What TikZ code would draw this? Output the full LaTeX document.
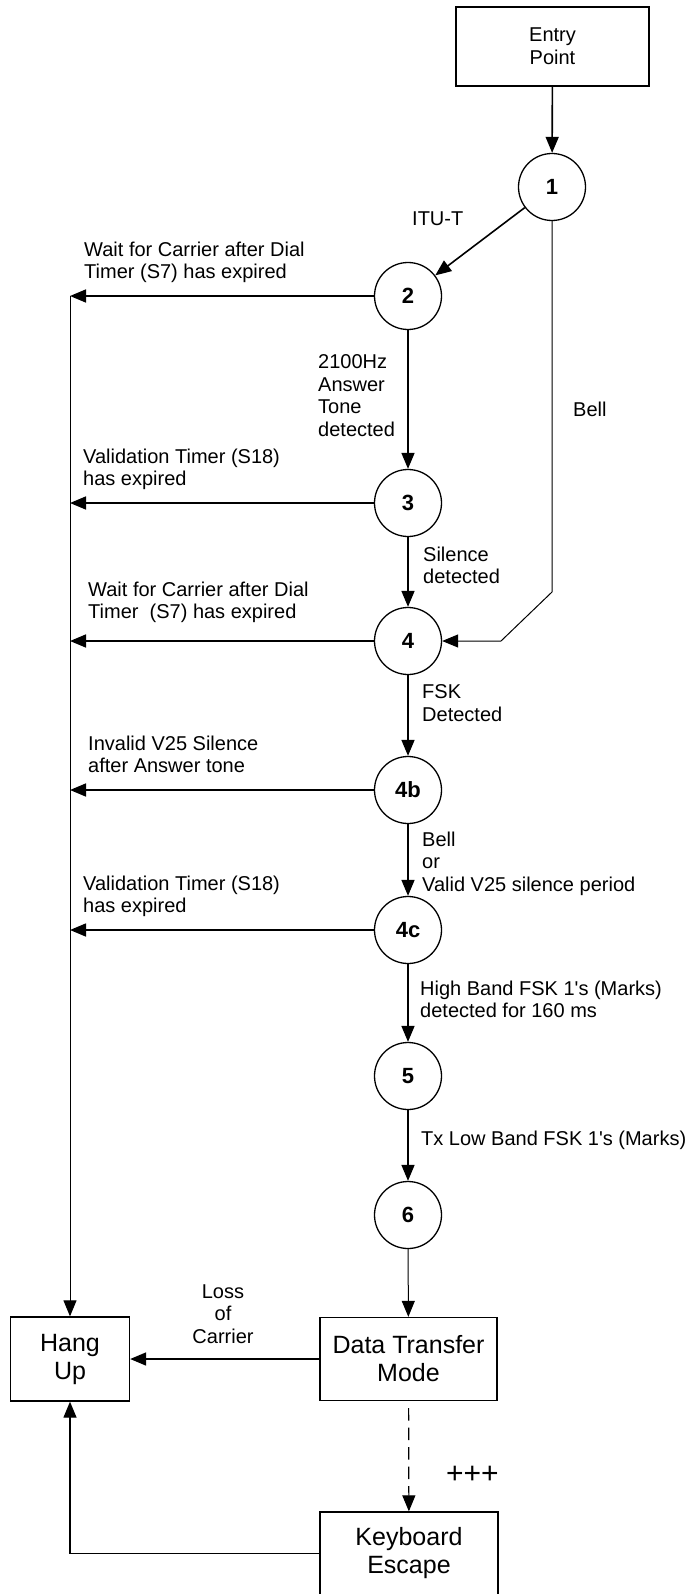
\documentclass[tikz,border=0pt]{standalone}
\usepackage{fontspec}
\setmainfont{Liberation Sans}[Ligatures=TeXOff]
\usetikzlibrary{arrows.meta}
\newcommand{\lblfont}{\fontsize{20}{22.6}\selectfont}
\newcommand{\boxfont}{\fontsize{25}{28}\selectfont}
\tikzset{
  state/.style={draw, circle, line width=1.3pt, minimum size=67pt, inner sep=0pt, font=\fontsize{22}{24}\selectfont\bfseries},
  blk/.style={draw, rectangle, line width=1.3pt, inner sep=0pt, align=center, font=\boxfont},
  lbl/.style={inner sep=0pt, align=left, anchor=north west, font=\lblfont},
  flow/.style={line width=1.6pt, -{Triangle[length=16pt,width=13pt]}},
  thinflow/.style={line width=1pt, -{Triangle[length=16pt,width=13pt]}},
}
\begin{document}
\begin{tikzpicture}[x=1pt,y=-1pt]
\useasboundingbox (0,0) rectangle (691,1594);
\node[blk, minimum width=193pt, minimum height=79pt, font=\lblfont] (entry) at (552.5,46.5) {Entry\\Point};
\node[state] (s1) at (552,187) {1};
\node[state] (s2) at (408,296) {2};
\node[state] (s3) at (408,503) {3};
\node[state] (s4) at (408,641) {4};
\node[state] (s4b) at (408,790) {4b};
\node[state] (s4c) at (408,930) {4c};
\node[state] (s5) at (408,1076) {5};
\node[state] (s6) at (408,1215) {6};
\node[blk, minimum width=119pt, minimum height=84pt] (hangup) at (70,1359) {Hang\\Up};
\node[blk, minimum width=177pt, minimum height=83pt] (dtm) at (408.5,1359) {Data Transfer\\Mode};
\node[blk, minimum width=178pt, minimum height=83pt] (kesc) at (409,1553.5) {Keyboard\\Escape};
\coordinate (rail) at (70,0);
\coordinate (bellA) at (552,592);
\coordinate (bellB) at (501,641);
%main path
\draw[flow] (entry) -- (s1);
\draw[flow] (s1) -- (s2);
\draw[flow] (s2) -- (s3);
\draw[flow] (s3) -- (s4);
\draw[flow] (s4) -- (s4b);
\draw[flow] (s4b) -- (s4c);
\draw[flow] (s4c) -- (s5);
\draw[flow] (s5) -- (s6);
\draw[thinflow] (s6) -- (dtm);
\draw[thinflow] (s1.south) -- (bellA) -- (bellB) -- (s4.east);
%to hang up
\draw[flow] (s2.west) -- (s2.west -| rail);
\draw[flow] (s3.west) -- (s3.west -| rail);
\draw[flow] (s4.west) -- (s4.west -| rail);
\draw[flow] (s4b.west) -- (s4b.west -| rail);
\draw[flow] (s4c.west) -- (s4c.west -| rail);
\draw[thinflow] (s2.west -| rail) -- (hangup.north);
\draw[flow] (dtm.west) -- (hangup.east);
\draw[flow, line width=1.3pt] (kesc.west) -| (hangup.south);
\draw[flow, line width=1.2pt, dash pattern=on 12.5pt off 7pt, dash phase=12.5pt] (dtm) -- (kesc);
%labels
\node[lbl, anchor=base west] (itu) at (412,226) {ITU-T};
\node[lbl, anchor=base west] (bell) at (573,416) {Bell};
\node[lbl] (w2) at (84,241.4) {Wait for Carrier after Dial\\Timer (S7) has expired};
\node[lbl] (v3) at (83,448.4) {Validation Timer (S18)\\has expired};
\node[lbl] (w4) at (88,581.4) {Wait for Carrier after Dial\\Timer\ \ (S7) has expired};
\node[lbl] (i4b) at (88,735.4) {Invalid V25 Silence\\after Answer tone};
\node[lbl] (v4c) at (83,875.4) {Validation Timer (S18)\\has expired};
\node[lbl] (ans) at (318,354.4) {2100Hz\\Answer\\Tone\\detected};
\node[lbl] (sil) at (423,546.4) {Silence\\detected};
\node[lbl] (fsk) at (422,684.4) {FSK\\Detected};
\node[lbl] (bor) at (422,831.4) {Bell\\or\\Valid V25 silence period};
\node[lbl] (hb) at (420,980.4) {High Band FSK 1's (Marks)\\detected for 160 ms};
\node[lbl, anchor=base west] (tx) at (421,1145) {Tx Low Band FSK 1's (Marks)};
\node[lbl, align=center, anchor=north] (loss) at (223,1284.4) {Loss\\of\\Carrier};
\node[lbl, anchor=base west, font=\fontsize{30}{32}\selectfont] (esc) at (446,1483) {+++};
\end{tikzpicture}
\end{document}
